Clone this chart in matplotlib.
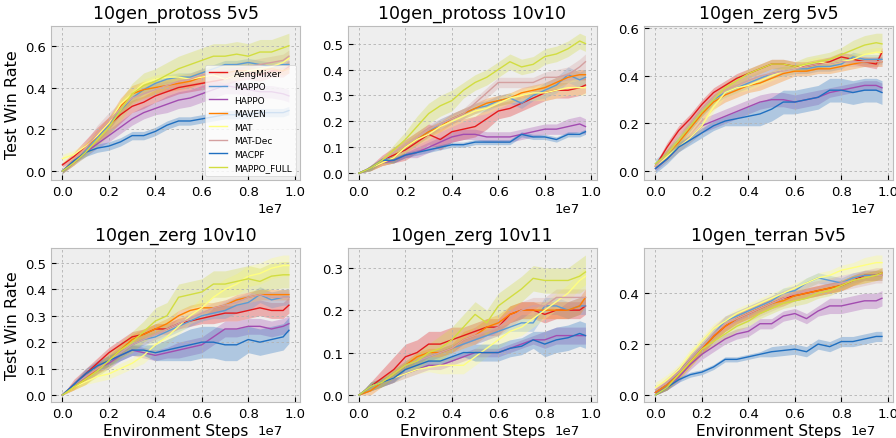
import numpy as np
import matplotlib
matplotlib.use("Agg")
import matplotlib.pyplot as plt
from matplotlib.ticker import MultipleLocator

# environment steps (x 1e6)
steps = [0, 0.5, 1.0, 1.5, 2.0, 2.5, 3.0, 3.5, 4.0, 4.5, 5.0,
         5.5, 6.0, 6.5, 7.0, 7.5, 8.0, 8.5, 9.0, 9.5, 9.75]

algos = ["AengMixer", "MAPPO", "HAPPO", "MAVEN", "MAT", "MAT-Dec", "MACPF", "MAPPO_FULL"]
colors = ["#e41a1c", "#5b9bd5", "#a24cb0", "#ff7f00", "#ffff80", "#d4a0a0", "#1f6fc0", "#d2dd40"]

titles = ["10gen_protoss 5v5", "10gen_protoss 10v10", "10gen_zerg 5v5",
          "10gen_zerg 10v10", "10gen_zerg 10v11", "10gen_terran 5v5"]
y_steps = [0.2, 0.1, 0.2, 0.1, 0.1, 0.2]

# mean test win rate, one row per algorithm (same order as algos)
protoss_5v5 = [
    [0.03,0.07,0.12,0.17,0.22,0.27,0.31,0.33,0.36,0.38,0.40,0.41,0.42,0.43,0.44,0.46,0.47,0.46,0.48,0.48,0.50],
    [0.00,0.05,0.10,0.16,0.22,0.29,0.35,0.39,0.42,0.44,0.45,0.45,0.47,0.49,0.51,0.51,0.52,0.51,0.50,0.51,0.51],
    [0.00,0.04,0.09,0.13,0.17,0.21,0.25,0.28,0.30,0.32,0.34,0.35,0.37,0.39,0.41,0.40,0.39,0.38,0.38,0.37,0.36],
    [0.00,0.05,0.11,0.17,0.23,0.31,0.37,0.39,0.40,0.41,0.42,0.43,0.45,0.46,0.47,0.48,0.48,0.48,0.49,0.48,0.49],
    [0.06,0.08,0.12,0.17,0.23,0.32,0.37,0.42,0.44,0.45,0.45,0.44,0.45,0.46,0.44,0.46,0.48,0.49,0.50,0.52,0.54],
    [0.00,0.05,0.11,0.18,0.24,0.30,0.35,0.37,0.39,0.41,0.43,0.44,0.46,0.47,0.48,0.49,0.50,0.51,0.52,0.53,0.55],
    [0.00,0.05,0.09,0.11,0.12,0.14,0.17,0.17,0.19,0.22,0.24,0.24,0.25,0.26,0.27,0.27,0.27,0.28,0.28,0.28,0.29],
    [0.00,0.04,0.09,0.15,0.21,0.29,0.37,0.41,0.43,0.46,0.49,0.51,0.53,0.55,0.55,0.56,0.55,0.57,0.57,0.59,0.60],
]
protoss_5v5_std = [
    [0.01,0.02,0.03,0.04,0.04,0.04,0.03,0.03,0.03,0.03,0.03,0.03,0.03,0.03,0.03,0.03,0.03,0.03,0.03,0.03,0.03],
    [0.01,0.01,0.02,0.02,0.02,0.02,0.02,0.02,0.02,0.02,0.02,0.02,0.02,0.02,0.02,0.02,0.02,0.02,0.02,0.02,0.02],
    [0.01,0.01,0.02,0.02,0.03,0.03,0.03,0.03,0.03,0.04,0.04,0.04,0.04,0.04,0.04,0.03,0.03,0.03,0.03,0.03,0.03],
    [0.01,0.02,0.02,0.03,0.03,0.04,0.04,0.04,0.03,0.03,0.03,0.03,0.03,0.03,0.03,0.02,0.02,0.02,0.02,0.02,0.02],
    [0.02,0.02,0.02,0.02,0.02,0.02,0.02,0.02,0.02,0.02,0.02,0.02,0.02,0.02,0.02,0.02,0.02,0.02,0.02,0.02,0.02],
    [0.01,0.02,0.03,0.04,0.04,0.03,0.03,0.03,0.03,0.03,0.03,0.03,0.03,0.03,0.03,0.03,0.03,0.03,0.03,0.03,0.03],
    [0.01,0.01,0.02,0.02,0.02,0.02,0.02,0.02,0.02,0.02,0.02,0.02,0.02,0.02,0.02,0.02,0.02,0.02,0.02,0.02,0.02],
    [0.01,0.01,0.02,0.03,0.04,0.05,0.05,0.06,0.06,0.06,0.06,0.06,0.06,0.06,0.06,0.06,0.06,0.06,0.06,0.06,0.06],
]

protoss_10v10 = [
    [0.00,0.02,0.05,0.07,0.09,0.12,0.15,0.13,0.16,0.17,0.18,0.21,0.24,0.25,0.27,0.29,0.31,0.32,0.32,0.33,0.34],
    [0.00,0.02,0.05,0.06,0.10,0.13,0.16,0.19,0.21,0.23,0.25,0.26,0.28,0.29,0.27,0.30,0.32,0.34,0.38,0.36,0.37],
    [0.00,0.02,0.04,0.05,0.07,0.08,0.10,0.12,0.14,0.15,0.15,0.14,0.14,0.14,0.15,0.16,0.17,0.17,0.18,0.19,0.18],
    [0.00,0.02,0.04,0.06,0.10,0.13,0.16,0.18,0.21,0.23,0.25,0.27,0.28,0.29,0.31,0.32,0.33,0.35,0.37,0.38,0.38],
    [0.00,0.02,0.04,0.06,0.10,0.13,0.15,0.18,0.20,0.22,0.24,0.25,0.27,0.29,0.30,0.31,0.31,0.32,0.33,0.33,0.33],
    [0.00,0.02,0.05,0.08,0.11,0.14,0.17,0.19,0.21,0.23,0.27,0.31,0.35,0.35,0.35,0.35,0.37,0.37,0.38,0.41,0.43],
    [0.00,0.02,0.05,0.05,0.07,0.08,0.09,0.10,0.11,0.11,0.12,0.12,0.12,0.12,0.15,0.14,0.14,0.13,0.15,0.15,0.16],
    [0.00,0.02,0.05,0.09,0.13,0.18,0.23,0.26,0.28,0.32,0.35,0.37,0.40,0.43,0.41,0.42,0.45,0.46,0.48,0.51,0.50],
]
protoss_10v10_std = [
    [0.00,0.01,0.02,0.03,0.04,0.04,0.04,0.04,0.04,0.04,0.04,0.04,0.03,0.03,0.03,0.03,0.03,0.03,0.03,0.03,0.03],
    [0.00,0.01,0.01,0.02,0.02,0.02,0.02,0.02,0.02,0.02,0.02,0.02,0.02,0.02,0.02,0.02,0.03,0.03,0.03,0.03,0.03],
    [0.00,0.01,0.01,0.01,0.01,0.02,0.02,0.02,0.02,0.02,0.02,0.02,0.02,0.02,0.02,0.02,0.02,0.02,0.03,0.03,0.03],
    [0.00,0.01,0.01,0.02,0.02,0.02,0.02,0.02,0.02,0.02,0.02,0.02,0.02,0.02,0.02,0.02,0.02,0.02,0.02,0.02,0.02],
    [0.00,0.01,0.01,0.02,0.02,0.02,0.02,0.02,0.02,0.02,0.02,0.02,0.02,0.02,0.02,0.03,0.03,0.03,0.03,0.03,0.03],
    [0.00,0.01,0.01,0.02,0.02,0.02,0.02,0.02,0.02,0.02,0.02,0.02,0.02,0.02,0.02,0.02,0.02,0.03,0.03,0.03,0.03],
    [0.00,0.01,0.01,0.01,0.01,0.01,0.01,0.01,0.01,0.01,0.01,0.01,0.01,0.01,0.01,0.01,0.01,0.01,0.01,0.01,0.01],
    [0.00,0.01,0.01,0.02,0.03,0.04,0.04,0.04,0.04,0.03,0.03,0.03,0.03,0.03,0.03,0.03,0.03,0.03,0.03,0.03,0.03],
]

zerg_5v5 = [
    [0.02,0.10,0.17,0.22,0.28,0.33,0.36,0.39,0.41,0.43,0.45,0.45,0.44,0.44,0.45,0.46,0.48,0.47,0.46,0.45,0.50],
    [0.03,0.07,0.13,0.19,0.25,0.30,0.33,0.35,0.37,0.39,0.41,0.42,0.43,0.43,0.44,0.44,0.45,0.48,0.47,0.47,0.47],
    [0.01,0.05,0.10,0.14,0.19,0.21,0.23,0.25,0.27,0.29,0.30,0.30,0.29,0.30,0.31,0.33,0.34,0.35,0.36,0.36,0.35],
    [0.02,0.07,0.12,0.18,0.24,0.29,0.32,0.34,0.36,0.37,0.39,0.41,0.42,0.42,0.43,0.43,0.44,0.45,0.46,0.46,0.46],
    [0.02,0.06,0.10,0.14,0.19,0.27,0.33,0.35,0.36,0.38,0.40,0.42,0.43,0.45,0.46,0.45,0.46,0.47,0.49,0.50,0.50],
    [0.02,0.07,0.13,0.20,0.26,0.31,0.34,0.36,0.38,0.40,0.41,0.42,0.43,0.44,0.45,0.45,0.46,0.46,0.46,0.46,0.46],
    [0.01,0.05,0.10,0.13,0.16,0.19,0.21,0.22,0.23,0.24,0.26,0.29,0.29,0.30,0.31,0.34,0.34,0.33,0.34,0.34,0.33],
    [0.03,0.07,0.13,0.19,0.25,0.30,0.35,0.38,0.41,0.43,0.45,0.45,0.44,0.45,0.46,0.47,0.49,0.51,0.53,0.54,0.535],
]
zerg_5v5_std = [
    [0.01,0.02,0.02,0.02,0.02,0.02,0.02,0.02,0.02,0.02,0.02,0.02,0.02,0.02,0.02,0.02,0.02,0.02,0.02,0.02,0.02],
    [0.02,0.02,0.02,0.02,0.02,0.02,0.02,0.02,0.02,0.02,0.02,0.02,0.02,0.02,0.02,0.02,0.02,0.02,0.02,0.02,0.02],
    [0.01,0.01,0.02,0.02,0.03,0.03,0.03,0.03,0.03,0.03,0.03,0.03,0.03,0.03,0.03,0.02,0.02,0.02,0.02,0.02,0.02],
    [0.01,0.02,0.02,0.03,0.03,0.03,0.03,0.03,0.03,0.03,0.03,0.03,0.02,0.02,0.02,0.02,0.02,0.02,0.02,0.02,0.02],
    [0.01,0.02,0.02,0.02,0.02,0.02,0.02,0.02,0.02,0.02,0.02,0.02,0.02,0.02,0.02,0.02,0.02,0.02,0.02,0.02,0.02],
    [0.01,0.02,0.02,0.02,0.02,0.02,0.02,0.02,0.02,0.02,0.02,0.02,0.02,0.02,0.02,0.02,0.02,0.02,0.02,0.02,0.02],
    [0.02,0.02,0.02,0.02,0.02,0.02,0.02,0.03,0.04,0.05,0.05,0.05,0.05,0.05,0.05,0.05,0.05,0.05,0.05,0.05,0.05],
    [0.01,0.02,0.02,0.02,0.02,0.02,0.02,0.02,0.02,0.02,0.02,0.02,0.02,0.03,0.03,0.03,0.03,0.04,0.04,0.04,0.045],
]

zerg_10v10 = [
    [0.00,0.04,0.08,0.12,0.16,0.19,0.22,0.23,0.25,0.25,0.27,0.28,0.29,0.30,0.31,0.31,0.32,0.33,0.32,0.32,0.34],
    [0.00,0.04,0.07,0.10,0.13,0.16,0.19,0.21,0.22,0.24,0.26,0.28,0.30,0.31,0.32,0.34,0.35,0.38,0.36,0.37,0.37],
    [0.00,0.04,0.07,0.10,0.12,0.15,0.17,0.16,0.15,0.16,0.17,0.18,0.19,0.22,0.25,0.25,0.26,0.26,0.25,0.26,0.27],
    [0.00,0.03,0.06,0.10,0.13,0.17,0.21,0.23,0.25,0.27,0.30,0.32,0.33,0.33,0.34,0.36,0.37,0.38,0.38,0.38,0.38],
    [0.00,0.03,0.05,0.07,0.08,0.10,0.12,0.15,0.19,0.22,0.26,0.30,0.33,0.37,0.40,0.42,0.45,0.46,0.48,0.49,0.49],
    [0.00,0.04,0.07,0.10,0.13,0.16,0.19,0.21,0.23,0.25,0.27,0.29,0.31,0.33,0.34,0.35,0.37,0.38,0.37,0.37,0.37],
    [0.00,0.04,0.08,0.11,0.13,0.15,0.17,0.17,0.16,0.17,0.18,0.19,0.20,0.20,0.19,0.19,0.21,0.20,0.21,0.22,0.245],
    [0.00,0.03,0.06,0.09,0.13,0.17,0.20,0.24,0.28,0.30,0.37,0.38,0.39,0.42,0.42,0.43,0.44,0.43,0.45,0.455,0.455],
]
zerg_10v10_std = [
    [0.00,0.02,0.02,0.02,0.02,0.02,0.02,0.02,0.02,0.02,0.02,0.02,0.02,0.03,0.03,0.03,0.03,0.03,0.03,0.03,0.03],
    [0.00,0.01,0.02,0.02,0.02,0.02,0.02,0.02,0.02,0.02,0.02,0.02,0.02,0.02,0.03,0.03,0.03,0.03,0.03,0.03,0.03],
    [0.00,0.01,0.02,0.02,0.02,0.02,0.02,0.02,0.02,0.02,0.03,0.03,0.03,0.03,0.03,0.03,0.03,0.03,0.03,0.03,0.03],
    [0.00,0.01,0.02,0.02,0.02,0.02,0.02,0.02,0.02,0.02,0.02,0.02,0.02,0.02,0.02,0.02,0.02,0.02,0.02,0.02,0.02],
    [0.00,0.01,0.01,0.02,0.02,0.02,0.02,0.03,0.03,0.03,0.03,0.03,0.04,0.04,0.04,0.04,0.04,0.04,0.04,0.04,0.04],
    [0.00,0.01,0.02,0.02,0.02,0.02,0.02,0.02,0.02,0.02,0.02,0.02,0.02,0.02,0.02,0.02,0.02,0.02,0.02,0.02,0.02],
    [0.00,0.01,0.02,0.02,0.02,0.02,0.02,0.02,0.03,0.04,0.05,0.06,0.06,0.06,0.06,0.06,0.05,0.05,0.05,0.05,0.05],
    [0.00,0.01,0.02,0.02,0.03,0.03,0.04,0.04,0.05,0.05,0.05,0.05,0.05,0.05,0.05,0.05,0.05,0.05,0.05,0.05,0.05],
]

zerg_10v11 = [
    [0.00,0.02,0.04,0.06,0.09,0.10,0.12,0.12,0.13,0.14,0.15,0.16,0.16,0.19,0.20,0.20,0.19,0.20,0.20,0.20,0.21],
    [0.00,0.02,0.03,0.05,0.07,0.08,0.09,0.10,0.11,0.12,0.13,0.14,0.15,0.16,0.17,0.17,0.21,0.21,0.20,0.21,0.21],
    [0.00,0.02,0.03,0.04,0.05,0.06,0.07,0.07,0.08,0.09,0.10,0.10,0.10,0.11,0.12,0.13,0.13,0.14,0.14,0.14,0.14],
    [0.00,0.01,0.03,0.05,0.07,0.09,0.10,0.10,0.11,0.13,0.14,0.16,0.17,0.19,0.20,0.20,0.20,0.20,0.20,0.21,0.23],
    [0.00,0.02,0.03,0.04,0.05,0.06,0.065,0.07,0.07,0.07,0.09,0.11,0.13,0.15,0.16,0.18,0.20,0.22,0.24,0.27,0.28],
    [0.00,0.02,0.03,0.05,0.07,0.08,0.09,0.10,0.11,0.13,0.14,0.15,0.16,0.18,0.20,0.21,0.21,0.23,0.23,0.23,0.23],
    [0.00,0.02,0.03,0.04,0.06,0.07,0.08,0.08,0.09,0.10,0.10,0.10,0.10,0.11,0.115,0.13,0.12,0.13,0.135,0.145,0.14],
    [0.00,0.02,0.03,0.05,0.07,0.08,0.10,0.11,0.13,0.16,0.19,0.17,0.21,0.23,0.25,0.275,0.27,0.27,0.27,0.28,0.29],
]
zerg_10v11_std = [
    [0.00,0.01,0.02,0.03,0.03,0.03,0.03,0.03,0.03,0.02,0.02,0.02,0.02,0.02,0.02,0.02,0.02,0.02,0.02,0.02,0.02],
    [0.00,0.01,0.01,0.01,0.01,0.01,0.01,0.01,0.01,0.01,0.01,0.01,0.01,0.01,0.02,0.02,0.02,0.02,0.02,0.02,0.02],
    [0.00,0.01,0.01,0.01,0.01,0.01,0.01,0.01,0.01,0.01,0.01,0.01,0.01,0.01,0.01,0.01,0.02,0.02,0.02,0.02,0.02],
    [0.00,0.01,0.01,0.01,0.01,0.01,0.01,0.01,0.01,0.02,0.02,0.02,0.02,0.02,0.02,0.02,0.02,0.02,0.02,0.02,0.02],
    [0.00,0.01,0.01,0.01,0.01,0.01,0.01,0.02,0.02,0.02,0.02,0.02,0.02,0.02,0.02,0.02,0.02,0.02,0.02,0.02,0.02],
    [0.00,0.01,0.01,0.01,0.01,0.01,0.01,0.01,0.01,0.01,0.02,0.02,0.02,0.02,0.02,0.02,0.02,0.02,0.02,0.02,0.02],
    [0.00,0.01,0.01,0.01,0.01,0.01,0.01,0.01,0.01,0.01,0.02,0.02,0.02,0.02,0.02,0.02,0.03,0.03,0.03,0.03,0.03],
    [0.00,0.01,0.01,0.01,0.01,0.02,0.02,0.03,0.03,0.03,0.03,0.03,0.03,0.03,0.03,0.03,0.03,0.03,0.03,0.04,0.04],
]

terran_5v5 = [
    [0.01,0.04,0.09,0.14,0.18,0.23,0.27,0.30,0.32,0.34,0.36,0.38,0.39,0.40,0.41,0.42,0.43,0.45,0.47,0.47,0.48],
    [0.01,0.04,0.09,0.14,0.19,0.24,0.29,0.31,0.33,0.35,0.37,0.40,0.41,0.44,0.46,0.45,0.44,0.46,0.47,0.47,0.47],
    [0.01,0.03,0.07,0.12,0.16,0.19,0.22,0.24,0.25,0.28,0.28,0.31,0.32,0.30,0.33,0.35,0.35,0.36,0.37,0.37,0.38],
    [0.01,0.04,0.08,0.13,0.18,0.23,0.27,0.30,0.32,0.34,0.36,0.37,0.39,0.40,0.41,0.42,0.43,0.45,0.46,0.47,0.47],
    [0.03,0.06,0.10,0.16,0.21,0.26,0.29,0.32,0.34,0.36,0.38,0.40,0.42,0.44,0.46,0.47,0.49,0.50,0.51,0.52,0.52],
    [0.02,0.05,0.09,0.14,0.19,0.24,0.28,0.30,0.32,0.34,0.36,0.38,0.40,0.41,0.42,0.43,0.44,0.45,0.46,0.47,0.47],
    [0.00,0.03,0.06,0.08,0.09,0.11,0.14,0.14,0.15,0.16,0.17,0.175,0.18,0.17,0.20,0.19,0.21,0.21,0.22,0.23,0.23],
    [0.00,0.03,0.08,0.13,0.18,0.21,0.24,0.27,0.29,0.32,0.34,0.36,0.37,0.38,0.40,0.41,0.43,0.45,0.46,0.47,0.48],
]
terran_5v5_std = [
    [0.01,0.02,0.02,0.02,0.02,0.02,0.02,0.02,0.02,0.02,0.02,0.02,0.02,0.02,0.02,0.02,0.02,0.02,0.02,0.02,0.02],
    [0.01,0.02,0.02,0.02,0.02,0.02,0.02,0.02,0.02,0.02,0.02,0.02,0.02,0.02,0.02,0.02,0.02,0.02,0.02,0.02,0.02],
    [0.01,0.01,0.02,0.02,0.02,0.02,0.02,0.02,0.02,0.02,0.02,0.02,0.02,0.02,0.02,0.03,0.03,0.03,0.03,0.03,0.03],
    [0.01,0.02,0.02,0.02,0.02,0.02,0.02,0.02,0.02,0.02,0.02,0.02,0.02,0.02,0.02,0.02,0.02,0.02,0.02,0.02,0.02],
    [0.02,0.02,0.02,0.02,0.02,0.02,0.02,0.02,0.02,0.02,0.02,0.02,0.02,0.02,0.02,0.02,0.02,0.02,0.03,0.03,0.03],
    [0.01,0.02,0.02,0.02,0.03,0.03,0.03,0.03,0.03,0.03,0.03,0.03,0.03,0.03,0.03,0.03,0.03,0.03,0.03,0.03,0.03],
    [0.00,0.01,0.01,0.01,0.01,0.01,0.01,0.01,0.01,0.01,0.02,0.02,0.02,0.02,0.02,0.02,0.02,0.02,0.02,0.02,0.02],
    [0.00,0.01,0.02,0.02,0.02,0.02,0.02,0.02,0.02,0.02,0.02,0.02,0.02,0.02,0.02,0.02,0.02,0.02,0.02,0.02,0.02],
]

panel_means = [protoss_5v5, protoss_10v10, zerg_5v5, zerg_10v10, zerg_10v11, terran_5v5]
panel_stds = [protoss_5v5_std, protoss_10v10_std, zerg_5v5_std, zerg_10v10_std, zerg_10v11_std, terran_5v5_std]


def draw_panel(ax, title, means, stds, ystep):
    x = np.array(steps) * 1e6
    for name, c, m, s in zip(algos, colors, means, stds):
        m = np.array(m)
        s = np.array(s)
        ax.fill_between(x, m - s, m + s, color=c, alpha=0.3, lw=0)
        ax.plot(x, m, color=c, lw=1.0, label=name)
    ax.set_title(title, fontsize=12.5)
    ax.xaxis.set_major_locator(MultipleLocator(0.2e7))
    ax.yaxis.set_major_locator(MultipleLocator(ystep))
    ax.tick_params(labelsize=9.5)
    off = ax.xaxis.get_offset_text()
    off.set_fontsize(9.5)
    off.set_x(0.93)


plt.style.use("bmh")
fig, axes = plt.subplots(2, 3, figsize=(8.96, 4.39), dpi=100)
for i, ax in enumerate(axes.flat):
    draw_panel(ax, titles[i], panel_means[i], panel_stds[i], y_steps[i])
    ax.grid(True, linestyle=(0, (3, 3)), linewidth=0.6, color="#b2b2b2")

for ax in axes[:, 0]:
    ax.set_ylabel("Test Win Rate", fontsize=11.5)
for ax in axes[1, :]:
    ax.set_xlabel("Environment Steps", fontsize=11, labelpad=2.5)

axes[0, 0].legend(loc="lower right", fontsize=6.5, facecolor="white", framealpha=0.8)

fig.subplots_adjust(left=0.057, right=0.997, top=0.938, bottom=0.082, wspace=0.19, hspace=0.44)
fig.savefig("out.png")
